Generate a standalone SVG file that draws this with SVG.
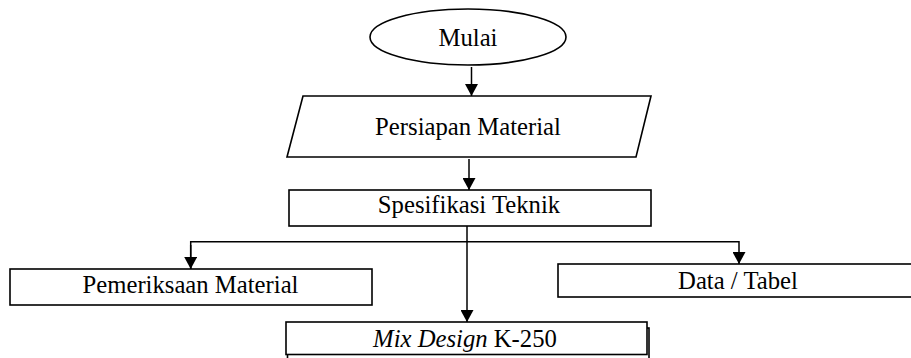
<svg xmlns="http://www.w3.org/2000/svg" width="911" height="358" viewBox="0 0 911 358">
<style>
.shape{fill:#fff;stroke:#000;stroke-width:1.6}
.conn{fill:none;stroke:#000;stroke-width:1.5}
text{font-family:"Liberation Serif","Times New Roman",serif;font-size:24.7px;fill:#000;text-anchor:middle}
</style>
<defs>
<marker id="arr" markerUnits="userSpaceOnUse" markerWidth="13" markerHeight="13" refX="12" refY="6.5" orient="auto" viewBox="0 0 12 13">
<path d="M0,0 L12,6.5 L0,13 z" fill="#000"/>
</marker>
</defs>
<rect width="911" height="358" fill="#fff"/>
<g id="connectors">
<line class="conn" x1="471.5" y1="67" x2="471.5" y2="96" marker-end="url(#arr)"/>
<line class="conn" x1="469" y1="159" x2="469" y2="190" marker-end="url(#arr)"/>
<line class="conn" x1="467" y1="226" x2="467" y2="322" marker-end="url(#arr)"/>
<polyline class="conn" points="190.7,269 190.7,241.7 739,241.7 739,264" marker-end="url(#arr)"/>
<line class="conn" x1="190.7" y1="245" x2="190.7" y2="269" marker-end="url(#arr)"/>
</g>
<g id="mulai">
<ellipse class="shape" cx="468" cy="37" rx="98" ry="28"/>
<text x="468" y="46">Mulai</text>
</g>
<g id="persiapan">
<polygon class="shape" points="303,96 651,96 636,157 287,157"/>
<text x="468" y="135">Persiapan Material</text>
</g>
<g id="spesifikasi">
<rect class="shape" x="289" y="190" width="362" height="36"/>
<text x="469" y="213">Spesifikasi Teknik</text>
</g>
<g id="pemeriksaan">
<rect class="shape" x="10" y="269" width="362" height="36"/>
<text x="190.5" y="293">Pemeriksaan Material</text>
</g>
<g id="data">
<rect class="shape" x="558" y="264" width="360" height="33"/>
<text x="738" y="289">Data / Tabel</text>
</g>
<g id="mixdesign">
<rect class="shape" x="287.5" y="328" width="361.5" height="36"/>
<rect class="shape" x="286" y="322" width="361" height="32.5"/>
<text x="465" y="346.5"><tspan font-style="italic">Mix Design</tspan> K-250</text>
</g>
</svg>
